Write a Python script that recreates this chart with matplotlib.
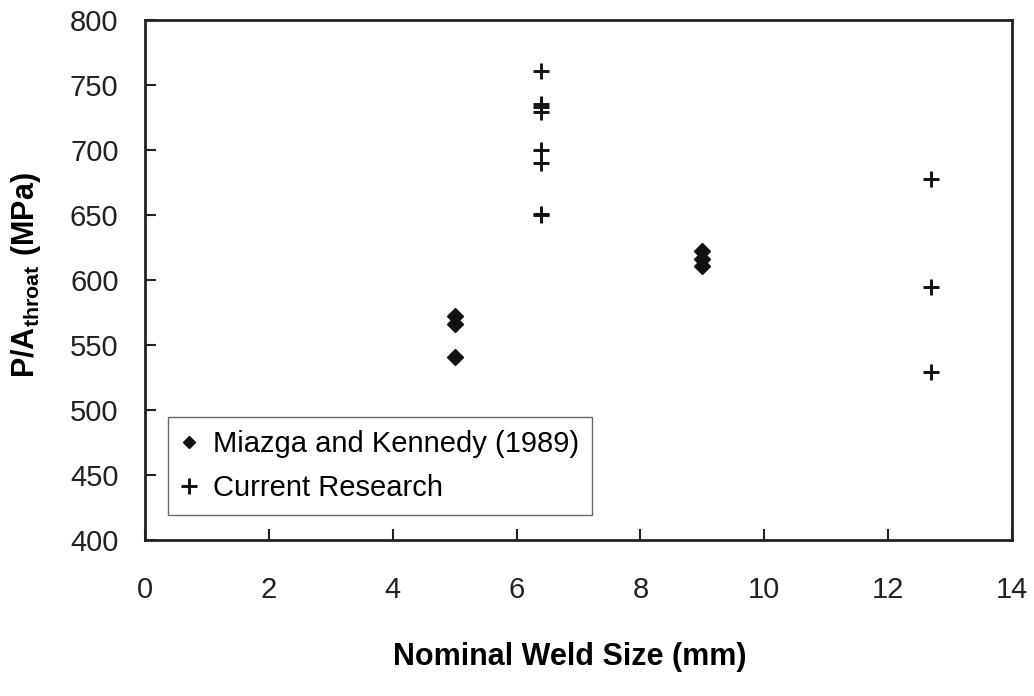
import matplotlib
matplotlib.use('Agg')
import matplotlib.pyplot as plt

plt.rcParams['font.family'] = ['Liberation Sans', 'DejaVu Sans']
plt.rcParams['mathtext.fontset'] = 'custom'
plt.rcParams['mathtext.rm'] = 'Liberation Sans'
plt.rcParams['mathtext.bf'] = 'Liberation Sans:bold'

# Miazga and Kennedy (1989)
mk_size = [5.0, 5.0, 5.0, 9.0, 9.0, 9.0]
mk_stress = [572, 566, 541, 622, 616, 611]

# Current research
cr_size = [6.4, 6.4, 6.4, 6.4, 6.4, 6.4, 6.4, 6.4, 12.7, 12.7, 12.7]
cr_stress = [761, 735, 733, 729, 700, 690, 651, 650, 678, 595, 529]

xticks = [0, 2, 4, 6, 8, 10, 12, 14]
yticks = [400, 450, 500, 550, 600, 650, 700, 750, 800]

fig = plt.figure(figsize=(10.34, 6.96), dpi=100)
ax = fig.add_axes([0.1402, 0.2241, 0.8385, 0.7472])

ax.plot(mk_size, mk_stress, marker='D', color='#111111', linestyle='none',
        markersize=8, label='Miazga and Kennedy (1989)')
ax.plot(cr_size, cr_stress, marker='+', color='#111111', linestyle='none',
        markersize=11.5, markeredgewidth=2.1, label='Current Research')

ax.set_xlim(0, 14)
ax.set_ylim(400, 800)
ax.set_xticks(xticks)
ax.set_yticks(yticks)
ax.tick_params(direction='in', length=8, width=1.5, labelsize=21, pad=19,
               colors='#222222')
ax.tick_params(axis='x', pad=26)
for s in ax.spines.values():
    s.set_linewidth(2)
    s.set_color('#222222')

ax.set_xlabel('Nominal Weld Size (mm)', fontsize=22, fontweight='bold')
ax.set_ylabel(r'$\mathbf{P/A_{throat}\ (MPa)}$', fontsize=22)
ax.xaxis.set_label_coords(0.49, -0.197)
ax.yaxis.set_label_coords(-0.118, 0.51)

leg = ax.legend(loc='upper left', bbox_to_anchor=(0.026, 0.237), fontsize=21,
                frameon=True, fancybox=False, shadow=False, handlelength=0.6,
                handletextpad=0.5, borderpad=0.45, labelspacing=0.55,
                borderaxespad=0)
leg.legend_handles[0].set_markersize(6)
leg.get_frame().set_edgecolor('#444444')
leg.get_frame().set_linewidth(1)

fig.savefig('out.png', dpi=100)
